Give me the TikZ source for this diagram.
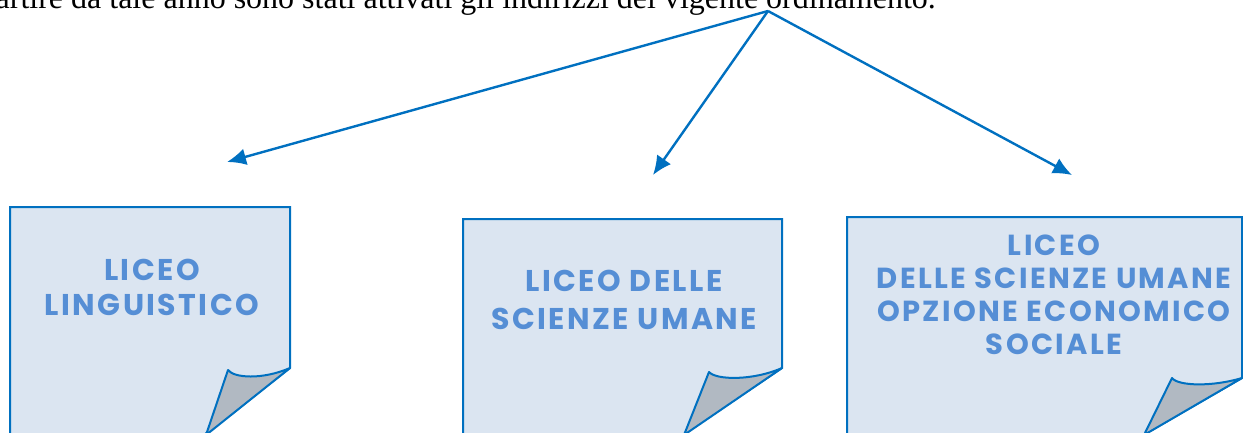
\documentclass[tikz,border=0pt]{standalone}
\usepackage{fontspec}
\setmainfont{Liberation Serif}
\newfontfamily\decofont[LetterSpace=8]{Poppins}
\usetikzlibrary{arrows.meta}
\definecolor{lineblue}{HTML}{0070C0}
\definecolor{paperfill}{HTML}{DBE5F1}
\definecolor{curlfill}{HTML}{B1B9C2}
\definecolor{textblue}{HTML}{558ED5}
\tikzset{
  paper/.style={draw=lineblue,fill=paperfill,line width=2pt,line join=miter},
  curl/.style={draw=lineblue,fill=curlfill,line width=2pt,line join=round},
  link/.style={draw=lineblue,line width=2.4pt,-{Latex[length=19pt,width=17pt]}},
  title/.style={font=\decofont\bfseries\fontsize{30}{35}\selectfont,text=textblue,align=center,inner sep=0pt,anchor=north},
  caption/.style={font=\fontsize{32}{38}\selectfont,inner sep=0pt,anchor=base east}
}
\begin{document}
\begin{tikzpicture}[x=1pt,y=-1pt]
\useasboundingbox (0,0) rectangle (1243,432);
\clip (0,0) rectangle (1243,432);
% top text
\node[caption] (cap) at (936,8) {partire da tale anno sono stati attivati gli indirizzi del vigente ordinamento.};
% arrows
\coordinate (o) at (768,11);
\coordinate (a1) at (227,162);
\coordinate (a2) at (653,175);
\coordinate (a3) at (1072,175);
\draw[link] (o) -- (a1);
\draw[link] (o) -- (a2);
\draw[link] (o) -- (a3);
% paper 1
\path[paper] (10,440) -- (10,207) -- (290,207) -- (290,368) -- (200,438) -- cycle;
\path[curl] (290,368) .. controls (262,380) and (234,378) .. (228,370) -- (206,435) -- cycle;
% paper 2
\path[paper] (463,440) -- (463,219) -- (782,219) -- (782,368) -- (678,438) -- cycle;
\path[curl] (782,368) .. controls (752,381) and (716,380) .. (709,372) -- (684,435) -- cycle;
% paper 3
\path[paper] (847,440) -- (847,217) -- (1242,217) -- (1242,378) -- (1138,438) -- cycle;
\path[curl] (1242,378) .. controls (1212,387) and (1178,386) .. (1172,378) -- (1144,435) -- cycle;
% texts
\node[title] (t1) at (152,259) {LICEO\\LINGUISTICO};
\node[title,font=\decofont\bfseries\fontsize{30}{38}\selectfont] (t2) at (624,270) {LICEO DELLE\\SCIENZE UMANE};
\node[title,font=\decofont\bfseries\fontsize{29}{33}\selectfont] (t3) at (1054,235) {LICEO\\DELLE SCIENZE UMANE\\OPZIONE ECONOMICO\\SOCIALE};
\end{tikzpicture}
\end{document}
